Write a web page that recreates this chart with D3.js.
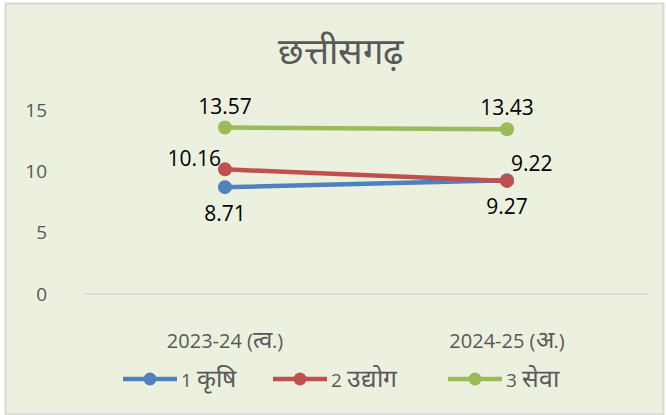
<!DOCTYPE html>
<html>
<head>
<meta charset="utf-8">
<script src="https://cdn.jsdelivr.net/npm/d3@7"></script>
<style>
  body { margin: 0; background: #fff; }
  text { font-family: "Open Sans", sans-serif; }
</style>
</head>
<body>
<svg id="chart"></svg>
<script>
// Chart data
const categories = ["2023-24 (त्व.)", "2024-25 (अ.)"];
const seriesNames = ["1 कृषि", "2 उद्योग", "3 सेवा"];
const krishi = [8.71, 9.27];
const udyog = [10.16, 9.22];
const seva = [13.57, 13.43];
const yTicks = [0, 5, 10, 15];
const colors = ["#4F81BD", "#C0504D", "#9BBB59"];

const width = 666, height = 415;
const svg = d3.select("#chart").attr("width", width).attr("height", height);

// the fallback Devanagari font draws small, so bump those runs up
function mixedText(sel, str, size, scale) {
  const runs = str.match(/[\u0900-\u097F]+|[^\u0900-\u097F]+/g);
  runs.forEach(r => {
    const dev = /[\u0900-\u097F]/.test(r);
    sel.append("tspan")
      .attr("font-size", dev ? size * scale : size)
      .attr("font-family", dev ? "sans-serif" : null)
      .text(r);
  });
}

// background + border
svg.append("rect")
  .attr("x", 5.5).attr("y", 3.5)
  .attr("width", width - 8).attr("height", height - 4)
  .attr("fill", "#EBF0DF")
  .attr("stroke", "#D9D9D9").attr("stroke-width", 2);

const title = svg.append("text")
  .attr("x", 340).attr("y", 64)
  .attr("text-anchor", "middle")
  .attr("fill", "#595959");
mixedText(title, "छत्तीसगढ़", 28, 1.3);

const x = d3.scaleBand().domain(categories).range([84, 648]);
const y = d3.scaleLinear().domain([0, 15]).range([294, 110]);

// baseline
svg.append("line")
  .attr("x1", 84).attr("x2", 648)
  .attr("y1", y(0)).attr("y2", y(0))
  .attr("stroke", "#D9D9D9").attr("stroke-width", 1.5);

// y axis labels
svg.append("g").selectAll("text")
  .data(yTicks)
  .join("text")
  .attr("x", 47).attr("y", d => y(d))
  .attr("dy", "0.35em")
  .attr("text-anchor", "end")
  .attr("font-size", 19)
  .attr("fill", "#595959")
  .text(d => d);

// x axis labels
svg.append("g").selectAll("text")
  .data(categories)
  .join("text")
  .attr("x", d => x(d) + x.bandwidth() / 2)
  .attr("y", 348)
  .attr("text-anchor", "middle")
  .attr("fill", "#595959")
  .each(function(d) { mixedText(d3.select(this), d, 20, 1.2); });

const series = [
  { name: seriesNames[0], values: krishi, color: colors[0], pos: ["below", "below"] },
  { name: seriesNames[1], values: udyog, color: colors[1], pos: ["leftAbove", "rightAbove"] },
  { name: seriesNames[2], values: seva, color: colors[2], pos: ["above", "above"] }
];

const cx = (i) => x(categories[i]) + x.bandwidth() / 2;
const line = d3.line().x((d, i) => cx(i)).y(d => y(d));

series.forEach(s => {
  svg.append("path")
    .attr("d", line(s.values))
    .attr("fill", "none")
    .attr("stroke", s.color)
    .attr("stroke-width", 4.5)
    .attr("stroke-linecap", "round");
  svg.append("g").selectAll("circle")
    .data(s.values)
    .join("circle")
    .attr("cx", (d, i) => cx(i))
    .attr("cy", d => y(d))
    .attr("r", 7)
    .attr("fill", s.color);
});

// data labels
series.forEach(s => {
  s.values.forEach((v, i) => {
    let lx = cx(i), ly = y(v), anchor = "middle";
    const p = s.pos[i];
    if (p === "above") ly -= 14;
    if (p === "below") ly += 34;
    if (p === "leftAbove") { lx -= 4; ly -= 3; anchor = "end"; }
    if (p === "rightAbove") { lx += 4; ly -= 10; anchor = "start"; }
    svg.append("text")
      .attr("x", lx).attr("y", ly)
      .attr("text-anchor", anchor)
      .attr("font-size", 21)
      .attr("fill", "#000")
      .text(v.toFixed(2));
  });
});

// legend
const legendX = [123, 273, 448];
const legend = svg.append("g");
series.forEach((s, i) => {
  const g = legend.append("g").attr("transform", `translate(${legendX[i]},379)`);
  g.append("line")
    .attr("x1", 0).attr("x2", 54)
    .attr("stroke", s.color).attr("stroke-width", 4.5);
  g.append("circle").attr("cx", 27).attr("r", 6.5).attr("fill", s.color);
  const t = g.append("text")
    .attr("x", 58).attr("y", 8)
    .attr("fill", "#595959");
  mixedText(t, s.name, 19, 1.3);
});
</script>
</body>
</html>
